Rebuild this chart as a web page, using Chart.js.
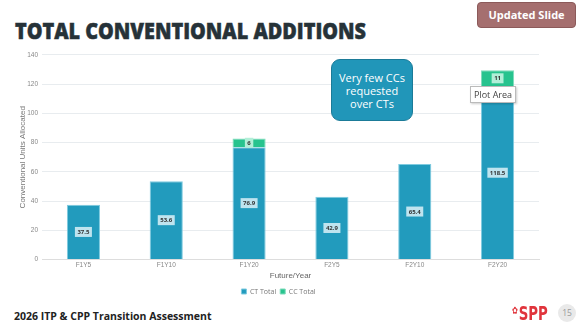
<!DOCTYPE html>
<html>
<head>
<meta charset="utf-8">
<script src="https://cdn.jsdelivr.net/npm/chart.js@4.4.0/dist/chart.umd.min.js"></script>
<style>
  html, body { margin: 0; padding: 0; background: #fff; }
  body { width: 580px; height: 325px; position: relative; overflow: hidden; font-family: "Open Sans", sans-serif; }
  #title { position: absolute; left: 15px; top: 15px; font-size: 22px; font-weight: 800; color: #263238; transform: scaleX(0.9); transform-origin: left top; white-space: nowrap; -webkit-text-stroke: 0.5px #263238; }
  #badge { position: absolute; left: 477px; top: 2px; width: 97px; height: 24px; background: #a56f6f; border: 1px solid #8c5a5a; border-radius: 4px; color: #fff; font-size: 11px; font-weight: 700; text-align: center; line-height: 24px; }
  #chartBox { position: absolute; left: 18px; top: 47px; width: 526px; height: 258px; }
  #callout { position: absolute; left: 331px; top: 59px; width: 80px; height: 60px; background: #2196b9; border: 1px solid #1b7b98; border-radius: 9px; color: #fff; font-size: 11px; line-height: 13px; text-align: center; display: flex; align-items: center; justify-content: center; }
  #tip { position: absolute; left: 470px; top: 86px; padding: 1px 3px; background: #fff; border: 1px solid #bbb; color: #444; font-size: 9px; box-shadow: 1px 1px 2px rgba(0,0,0,0.2); }
  #footer { position: absolute; left: 14px; top: 309px; font-size: 10.5px; font-weight: 700; color: #222; }
  #logo { position: absolute; left: 512px; top: 302px; font-family: "Liberation Sans Narrow", "DejaVu Sans Condensed", sans-serif; font-weight: 700; font-size: 19px; color: #e0343c; transform: scaleX(0.78); transform-origin: left top; white-space: nowrap; }
  #logo span { font-size: 10px; vertical-align: 6px; margin-right: 1px; }
  #page { position: absolute; left: 558px; top: 304px; width: 18px; height: 18px; border-radius: 50%; background: #e9e9e9; color: #999; font-size: 8.5px; text-align: center; line-height: 18px; }
</style>
</head>
<body>
<div id="title">TOTAL CONVENTIONAL ADDITIONS</div>
<div id="badge">Updated Slide</div>
<div id="chartBox"><canvas id="chart"></canvas></div>
<div id="callout">Very few CCs<br>requested<br>over CTs</div>
<div id="tip">Plot Area</div>
<div id="footer">2026 ITP &amp; CPP Transition Assessment</div>
<div id="logo"><span>&#10047;</span>SPP</div>
<div id="page">15</div>
<script>
// カテゴリと系列データ
const categories = ["F1Y5", "F1Y10", "F1Y20", "F2Y5", "F2Y10", "F2Y20"];
const ctTotal = [37.5, 53.6, 76.9, 42.9, 65.4, 118.5];
const ccTotal = [0, 0, 6, 0, 0, 11];
const yTicks = [0, 20, 40, 60, 80, 100, 120, 140];

const CT_COLOR = "#229bbd";
const CC_COLOR = "#27c38e";

// バーの中央に値ラベル（小さな箱付き）を描くプラグイン
const barLabels = {
    id: "barLabels",
    afterDatasetsDraw(chart) {
        const ctx = chart.ctx;
        ctx.save();
        ctx.font = "bold 6px 'Open Sans', sans-serif";
        ctx.textAlign = "center";
        ctx.textBaseline = "middle";
        chart.data.datasets.forEach((ds, i) => {
            const meta = chart.getDatasetMeta(i);
            meta.data.forEach((bar, j) => {
                const v = ds.data[j];
                if (!v) return;
                const y = (bar.y + bar.base) / 2;
                const txt = String(v);
                const w = ctx.measureText(txt).width + 5;
                ctx.fillStyle = i === 0 ? "#bfe4ef" : "#b2efd8";
                ctx.fillRect(bar.x - w / 2, y - 5, w, 10);
                ctx.fillStyle = "#333";
                ctx.fillText(txt, bar.x, y + 0.5);
            });
        });
        ctx.restore();
    }
};

new Chart(document.getElementById("chart"), {
    type: "bar",
    data: {
        labels: categories,
        datasets: [
            { label: "CT Total", data: ctTotal, backgroundColor: CT_COLOR, borderColor: "#7fcbe0", borderWidth: 1 },
            { label: "CC Total", data: ccTotal, backgroundColor: CC_COLOR, borderColor: "#7fdcbb", borderWidth: 1 }
        ]
    },
    options: {
        responsive: true,
        maintainAspectRatio: false,
        animation: false,
        layout: { padding: { right: 5, top: 0, left: 0 } },
        datasets: { bar: { categoryPercentage: 0.4, barPercentage: 1 } },
        plugins: {
            legend: {
                position: "bottom",
                labels: { boxWidth: 5, boxHeight: 5, padding: 4, color: "#777", font: { size: 7, family: "'Open Sans', sans-serif" } }
            },
            tooltip: { enabled: false }
        },
        scales: {
            x: {
                stacked: true,
                grid: { display: false, drawTicks: false },
                border: { color: "#ddd" },
                ticks: { color: "#888", font: { size: 6.5 }, padding: 2 },
                title: { display: true, text: "Future/Year", color: "#666", font: { size: 8 }, padding: { top: 0, bottom: 3 } }
            },
            y: {
                stacked: true,
                min: 0,
                max: 140,
                afterBuildTicks: (axis) => { axis.ticks = yTicks.map(v => ({ value: v })); },
                afterFit: (axis) => { axis.width = 24; },
                grid: { color: "#e8ecef", drawTicks: false },
                border: { display: false },
                ticks: { color: "#888", font: { size: 6.5 }, padding: 4 },
                title: { display: true, text: "Conventional Units Allocated", color: "#777", font: { size: 8 }, padding: { top: 0, bottom: 1 } }
            }
        }
    },
    plugins: [barLabels]
});
</script>
</body>
</html>
